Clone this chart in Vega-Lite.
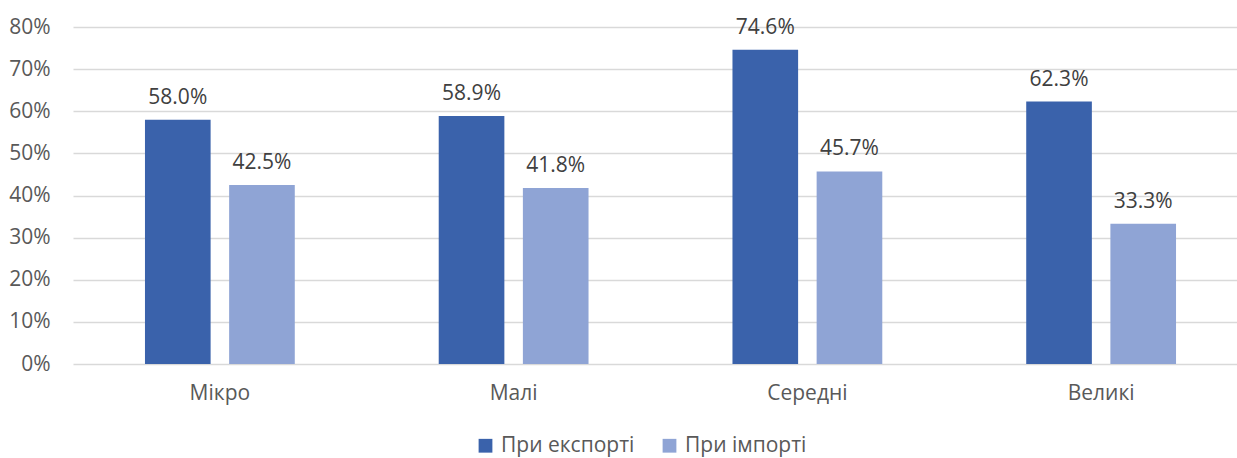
{
  "$schema": "https://vega.github.io/schema/vega-lite/v6.json",
  "width": 1175,
  "height": 337,
  "autosize": {"type": "none"},
  "padding": {"left": 73, "top": 27, "right": 0, "bottom": 94},
  "background": "white",
  "config": {
    "view": {"stroke": null},
    "font": "Open Sans"
  },
  "data": {
    "values": [
      {"category": "Мікро", "type": "При експорті", "value": 0.580},
      {"category": "Мікро", "type": "При імпорті", "value": 0.425},
      {"category": "Малі", "type": "При експорті", "value": 0.589},
      {"category": "Малі", "type": "При імпорті", "value": 0.418},
      {"category": "Середні", "type": "При експорті", "value": 0.746},
      {"category": "Середні", "type": "При імпорті", "value": 0.457},
      {"category": "Великі", "type": "При експорті", "value": 0.623},
      {"category": "Великі", "type": "При імпорті", "value": 0.333}
    ]
  },
  "encoding": {
    "x": {
      "field": "category",
      "type": "nominal",
      "sort": ["Мікро", "Малі", "Середні", "Великі"],
      "scale": {"paddingInner": 0.49, "paddingOuter": 0.245},
      "axis": {
        "title": null,
        "labelAngle": 0,
        "labelFontSize": 21,
        "labelColor": "#595959",
        "labelPadding": 18,
        "domain": false,
        "ticks": false,
        "grid": false
      }
    },
    "xOffset": {
      "field": "type",
      "type": "nominal",
      "sort": ["При експорті", "При імпорті"],
      "scale": {"paddingInner": 0.22}
    },
    "y": {
      "field": "value",
      "type": "quantitative",
      "scale": {"domain": [0, 0.8], "nice": false},
      "axis": {
        "title": null,
        "format": ".0%",
        "values": [0, 0.1, 0.2, 0.3, 0.4, 0.5, 0.6, 0.7, 0.8],
        "labelFontSize": 21,
        "labelColor": "#595959",
        "labelPadding": 23,
        "domain": false,
        "ticks": false,
        "gridColor": "#D9D9D9",
        "gridWidth": 1.5
      }
    }
  },
  "layer": [
    {
      "mark": {"type": "bar"},
      "encoding": {
        "color": {
          "field": "type",
          "type": "nominal",
          "sort": ["При експорті", "При імпорті"],
          "scale": {"domain": ["При експорті", "При імпорті"], "range": ["#3A62AB", "#8FA4D5"]},
          "legend": {
            "title": null,
            "orient": "none",
            "direction": "horizontal",
            "legendX": 402,
            "legendY": 408,
            "symbolType": "square",
            "symbolSize": 190,
            "symbolStrokeWidth": 0,
            "labelFontSize": 21,
            "labelColor": "#595959",
            "columnPadding": 24,
            "labelOffset": 5
          }
        }
      }
    },
    {
      "mark": {"type": "text", "baseline": "bottom", "dy": -12, "fontSize": 21, "color": "#404040"},
      "encoding": {
        "text": {"field": "value", "type": "quantitative", "format": ".1%"}
      }
    }
  ]
}
